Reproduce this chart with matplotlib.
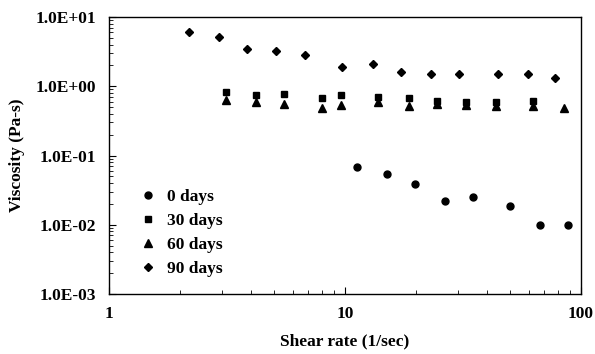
import matplotlib
matplotlib.use("Agg")
import matplotlib.pyplot as plt
from matplotlib.ticker import FixedLocator, FixedFormatter, LogLocator, NullFormatter

# Data
x_0d = [11.2, 15.0, 19.8, 26.5, 35.0, 50.1, 67.2, 88.0]
y_0d = [0.069, 0.054, 0.039, 0.022, 0.025, 0.0187, 0.0098, 0.0098]

x_30d = [3.13, 4.21, 5.52, 7.96, 9.61, 13.8, 18.7, 24.6, 32.6, 43.5, 62.8]
y_30d = [0.834, 0.748, 0.773, 0.684, 0.748, 0.706, 0.670, 0.618, 0.586, 0.598, 0.612]

x_60d = [3.13, 4.21, 5.52, 7.96, 9.61, 13.8, 18.7, 24.6, 32.6, 43.5, 62.8, 84.7]
y_60d = [0.632, 0.586, 0.555, 0.490, 0.543, 0.598, 0.524, 0.550, 0.535, 0.524, 0.524, 0.481]

x_90d = [2.18, 2.92, 3.84, 5.11, 6.77, 9.74, 13.1, 17.3, 23.1, 30.5, 44.4, 59.6, 77.8]
y_90d = [6.14, 5.14, 3.45, 3.26, 2.83, 1.91, 2.07, 1.61, 1.52, 1.52, 1.49, 1.50, 1.33]

labels = ["0 days", "30 days", "60 days", "90 days"]
x_ticks = [1, 10, 100]
x_ticklabels = ["1", "10", "100"]
y_ticks = [1e-3, 1e-2, 1e-1, 1e0, 1e1]
y_ticklabels = ["1.0E-03", "1.0E-02", "1.0E-01", "1.0E+00", "1.0E+01"]

plt.rcParams['font.family'] = ['Liberation Serif', 'DejaVu Serif']
plt.rcParams['font.weight'] = 'bold'

fig = plt.figure(figsize=(5.95, 3.54), dpi=100)
ax = fig.add_axes([109/595, 1-294/354, (581-109)/595, (294-17)/354])

ax.plot(x_0d, y_0d, 'o', color='black', markersize=5, linestyle='none', label=labels[0])
ax.plot(x_30d, y_30d, 's', color='black', markersize=5, linestyle='none', label=labels[1])
ax.plot(x_60d, y_60d, '^', color='black', markersize=5.5, linestyle='none', label=labels[2])
ax.plot(x_90d, y_90d, 'D', color='black', markersize=4, linestyle='none', label=labels[3])

ax.set_xscale('log')
ax.set_yscale('log')
ax.set_xlim(1, 100)
ax.set_ylim(1e-3, 1e1)

ax.xaxis.set_major_locator(FixedLocator(x_ticks))
ax.xaxis.set_major_formatter(FixedFormatter(x_ticklabels))
ax.yaxis.set_major_locator(FixedLocator(y_ticks))
ax.yaxis.set_major_formatter(FixedFormatter(y_ticklabels))
ax.xaxis.set_minor_locator(LogLocator(base=10, subs=range(2, 10)))
ax.yaxis.set_minor_locator(LogLocator(base=10, subs=range(2, 10)))
ax.xaxis.set_minor_formatter(NullFormatter())
ax.yaxis.set_minor_formatter(NullFormatter())

ax.tick_params(which='both', direction='in', top=False, right=False, labelsize=12.5)
ax.tick_params(which='major', length=5, width=0.8)
ax.tick_params(which='minor', length=3, width=0.6)
ax.tick_params(axis='x', pad=9)
ax.tick_params(axis='y', pad=9)
for lbl in ax.get_xticklabels() + ax.get_yticklabels():
    lbl.set_fontweight('bold')

for s in ax.spines.values():
    s.set_linewidth(1.0)
    s.set_color('black')

ax.set_xlabel("Shear rate (1/sec)", fontsize=12.5, fontweight='bold', labelpad=8)
ax.set_ylabel("Viscosity (Pa-s)", fontsize=12.5, fontweight='bold', labelpad=8)

ax.legend(loc='upper left', bbox_to_anchor=(0.05, 0.405), frameon=False,
          prop={'size': 12.5, 'weight': 'bold'}, handlelength=1.0,
          handletextpad=0.6, labelspacing=0.45, borderaxespad=0)

fig.savefig("out.png", dpi=100)
